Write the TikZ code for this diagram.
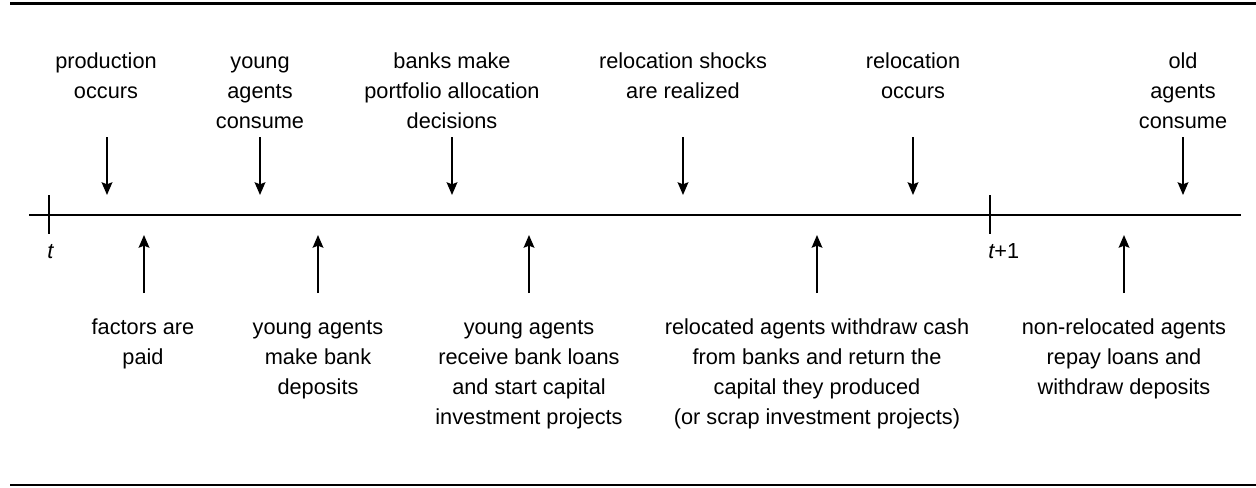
\documentclass[tikz,border=0pt]{standalone}
\usepackage{fontspec}
\setmainfont{Liberation Sans}
\usetikzlibrary{arrows.meta}
\begin{document}
\begin{tikzpicture}[x=0.75pt,y=-0.75pt,
  lbl/.style={align=center,inner sep=0pt,anchor=north,font=\fontsize{16.3pt}{22.6pt}\selectfont},
  evarrow/.style={line width=1.5pt,-{Stealth[length=9.5pt,width=8pt,inset=1.5pt]}},
  rulel/.style={line width=2.2pt},
  axis/.style={line width=1.4pt},
  tickmark/.style={line width=1.4pt},
  tlabel/.style={inner sep=0pt,anchor=base west,font=\fontsize{16.3pt}{22.6pt}\selectfont}]
\useasboundingbox (0,0) rectangle (1256,487);
% rules
\coordinate (rtl) at (10,3.5); \coordinate (rtr) at (1256,3.5);
\coordinate (rbl) at (10,485); \coordinate (rbr) at (1256,485);
\draw[rulel] (rtl) -- (rtr);
\draw[rulel] (rbl) -- (rbr);
% timeline
\coordinate (axl) at (29,215); \coordinate (axr) at (1241,215);
\draw[axis] (axl) -- (axr);
\coordinate (t0a) at (49,195); \coordinate (t0b) at (49,234);
\coordinate (t1a) at (990,195); \coordinate (t1b) at (990,234);
\draw[tickmark] (t0a) -- (t0b);
\draw[tickmark] (t1a) -- (t1b);
\node[tlabel] (tl0) at (47,258) {\itshape t};
\node[tlabel] (tl1) at (988,258) {{\itshape t}+1};
\def\fl{\rule{0pt}{0.8em}}
% top labels (baseline of first line at about 68.5)
\node[lbl] (u1) at (106,51) {\fl production\\occurs};
\node[lbl] (u2) at (260,51) {\fl young\\agents\\consume};
\node[lbl] (u3) at (452,51) {\fl banks make\\portfolio allocation\\decisions};
\node[lbl] (u4) at (683,51) {\fl relocation shocks\\are realized};
\node[lbl] (u5) at (913,51) {\fl relocation\\occurs};
\node[lbl] (u6) at (1183,51) {\fl old\\agents\\consume};
% bottom labels (baseline of first line at about 334)
\node[lbl] (d1) at (143,316.6) {\fl factors are\\paid};
\node[lbl] (d2) at (318,316.6) {\fl young agents\\make bank\\deposits};
\node[lbl] (d3) at (529,316.6) {\fl young agents\\receive bank loans\\and start capital\\investment projects};
\node[lbl] (d4) at (817,316.6) {\fl relocated agents withdraw cash\\from banks and return the\\capital they produced\\(or scrap investment projects)};
\node[lbl] (d5) at (1124,316.6) {\fl non-relocated agents\\repay loans and\\withdraw deposits};
% down arrows
\foreach \n/\x in {1/107,2/260,3/452,4/683,5/913,6/1183}{
  \coordinate (ua\n) at (\x,137);
  \coordinate (ub\n) at (\x,195);
  \draw[evarrow] (ua\n) -- (ub\n);
}
% up arrows
\foreach \n/\x in {1/144,2/318,3/529,4/817,5/1124}{
  \coordinate (da\n) at (\x,293);
  \coordinate (db\n) at (\x,235);
  \draw[evarrow] (da\n) -- (db\n);
}
\end{tikzpicture}
\end{document}
